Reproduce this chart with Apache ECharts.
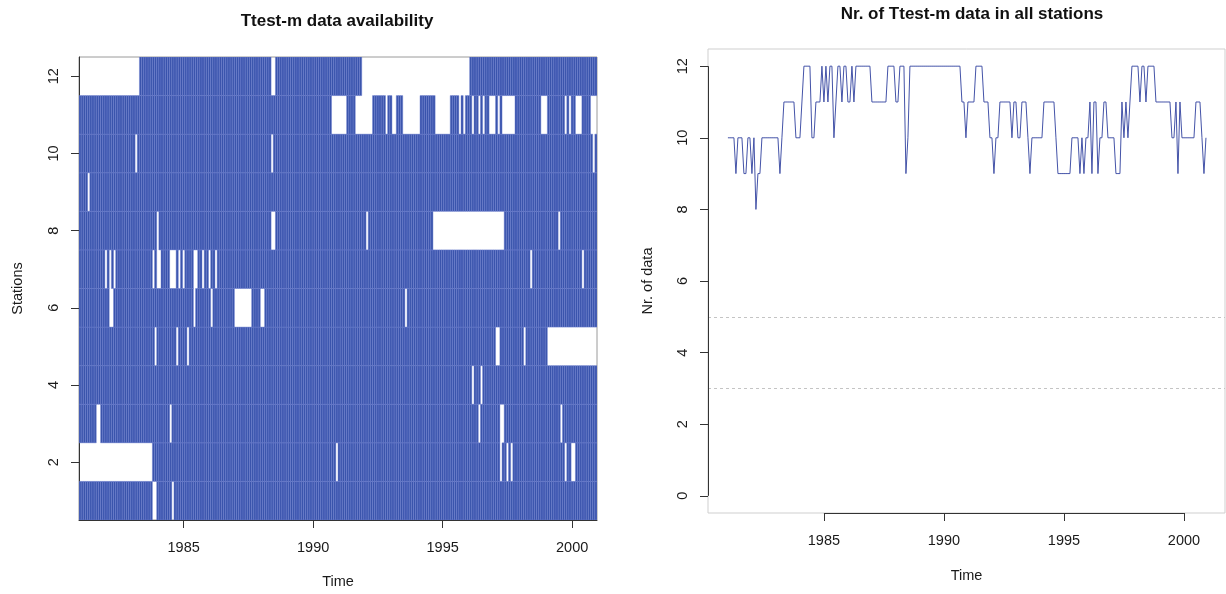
<!DOCTYPE html>
<html><head><meta charset="utf-8">
<script src="https://cdn.jsdelivr.net/npm/echarts@6/dist/echarts.min.js"></script>
<style>html,body{margin:0;padding:0;background:#fff}#c{width:1226px;height:594px}</style>
</head><body><div id="c"></div>
<script>
// ---- data ----
const startYear = 1981;          // first month = Jan 1981
const nMonths = 240;             // monthly, 1981-2000
const stationIds = [1,2,3,4,5,6,7,8,9,10,11,12];
const xTicks = [1985, 1990, 1995, 2000];
const stationTicks = [2, 4, 6, 8, 10, 12];
const countTicks = [0, 2, 4, 6, 8, 10, 12];
const refLevels = [5, 3];

// missing months per station, inclusive month-index ranges (0 = Jan 1981)
const gapsSt1  = [[34,35],[43,43]];
const gapsSt2  = [[0,33],[119,119],[195,195],[198,198],[200,200],[225,225],[228,229]];
const gapsSt3  = [[8,9],[42,42],[185,185],[195,196],[223,223]];
const gapsSt4  = [[182,182],[186,186]];
const gapsSt5  = [[35,35],[45,45],[50,50],[193,194],[206,206],[217,239]];
const gapsSt6  = [[14,15],[53,53],[61,61],[72,79],[84,85],[151,151]];
const gapsSt7  = [[12,12],[14,14],[16,16],[34,34],[36,37],[42,44],[46,46],[48,48],[53,54],[57,57],[60,60],[63,63],[209,209],[233,233]];
const gapsSt8  = [[36,36],[89,90],[133,133],[164,196],[222,222]];
const gapsSt9  = [[4,4]];
const gapsSt10 = [[26,26],[89,89],[238,238]];
const gapsSt11 = [[117,123],[128,135],[142,142],[145,146],[150,157],[165,171],[176,176],[178,178],[182,182],[185,185],[187,187],[190,192],[194,194],[196,201],[214,216],[225,225],[227,227],[230,232],[237,239]];
const gapsSt12 = [[0,27],[89,90],[131,180]];

const gapsByStation = [gapsSt1,gapsSt2,gapsSt3,gapsSt4,gapsSt5,gapsSt6,gapsSt7,gapsSt8,gapsSt9,gapsSt10,gapsSt11,gapsSt12];

// ---- build tables ----
function missing(gaps, m){ return gaps.some(g => m >= g[0] && m <= g[1]); }
const cells = [];
const counts = [];
for (let m = 0; m < nMonths; m++) {
  const t = startYear + m / 12;
  let c = 0;
  stationIds.forEach((s, i) => {
    if (!missing(gapsByStation[i], m)) { cells.push([t, s]); c++; }
  });
  counts.push([t, c]);
}

const FONT = 'Liberation Sans';
const txt = '#1a1a1a';
const half = 1 / 24;
const countMin = -0.48, countMax = 12.48;
const timeMin2 = 1980.17, timeMax2 = 2001.71;
const plain = v => String(v);

const chart = echarts.init(document.getElementById('c'), null, {renderer: 'canvas'});
chart.setOption({
  animation: false,
  backgroundColor: '#fff',
  textStyle: {fontFamily: FONT},
  title: [
    {text: 'Ttest-m data availability', left: 332, top: 8, textAlign: 'center',
     textStyle: {fontFamily: FONT, fontSize: 17, fontWeight: 'bold', color: '#111'}},
    {text: 'Nr. of Ttest-m data in all stations', left: 967, top: 1, textAlign: 'center',
     textStyle: {fontFamily: FONT, fontSize: 17, fontWeight: 'bold', color: '#111'}}
  ],
  grid: [
    {left: 79, top: 57, width: 518, height: 463, show: true, borderColor: '#9a9a9a', borderWidth: 1},
    {left: 708, top: 49, width: 517, height: 464, show: true, borderColor: '#cfcfcf', borderWidth: 1}
  ],
  xAxis: [
    {gridIndex: 0, type: 'value', min: startYear - half, max: startYear + nMonths / 12 - half,
     splitLine: {show: false},
     axisLine: {show: true, onZero: false, lineStyle: {color: '#333'}},
     axisTick: {show: true, length: 8, customValues: xTicks, lineStyle: {color: '#333'}},
     axisLabel: {customValues: xTicks, formatter: plain, fontSize: 14.5, color: txt, margin: 20, fontFamily: FONT},
     name: 'Time', nameLocation: 'middle', nameGap: 54,
     nameTextStyle: {fontSize: 14.5, color: txt, fontFamily: FONT}},
    {gridIndex: 1, type: 'value', min: timeMin2, max: timeMax2,
     splitLine: {show: false},
     axisLine: {show: false, onZero: false},
     axisTick: {show: true, length: 8, customValues: xTicks, lineStyle: {color: '#333'}},
     axisLabel: {customValues: xTicks, formatter: plain, fontSize: 14.5, color: txt, margin: 20, fontFamily: FONT},
     name: 'Time', nameLocation: 'middle', nameGap: 55,
     nameTextStyle: {fontSize: 14.5, color: txt, fontFamily: FONT}}
  ],
  yAxis: [
    {gridIndex: 0, type: 'value', min: 0.5, max: 12.5,
     splitLine: {show: false},
     axisLine: {show: true, onZero: false, lineStyle: {color: '#333'}},
     axisTick: {show: true, length: 8, customValues: stationTicks, lineStyle: {color: '#333'}},
     axisLabel: {customValues: stationTicks, formatter: plain, rotate: 90, fontSize: 14.5, color: txt, margin: 18, fontFamily: FONT},
     name: 'Stations', nameLocation: 'middle', nameGap: 54,
     nameTextStyle: {fontSize: 14.5, color: txt, fontFamily: FONT}},
    {gridIndex: 1, type: 'value', min: countMin, max: countMax,
     splitLine: {show: false},
     axisLine: {show: false, onZero: false},
     axisTick: {show: true, length: 8, customValues: countTicks, lineStyle: {color: '#333'}},
     axisLabel: {customValues: countTicks, formatter: plain, rotate: 90, fontSize: 14.5, color: txt, margin: 18, fontFamily: FONT},
     name: 'Nr. of data', nameLocation: 'middle', nameGap: 53,
     nameTextStyle: {fontSize: 14.5, color: txt, fontFamily: FONT}}
  ],
  series: [
    {type: 'custom', xAxisIndex: 0, yAxisIndex: 0, data: cells, clip: true,
     renderItem: function (params, api) {
       const t = api.value(0), s = api.value(1);
       const p0 = api.coord([t - half, s + 0.5]);
       const p1 = api.coord([t + half, s - 0.5]);
       return {type: 'rect',
         shape: {x: p0[0], y: p0[1], width: p1[0] - p0[0], height: p1[1] - p0[1]},
         style: {fill: '#3a54ac', stroke: '#6d7fcf', lineWidth: 0.45}};
     }},
    {type: 'line', xAxisIndex: 1, yAxisIndex: 1, data: counts, showSymbol: false,
     lineStyle: {color: '#4453a8', width: 1}, z: 3,
     markLine: {silent: true, symbol: 'none', label: {show: false},
       data: [
         {yAxis: refLevels[0], lineStyle: {color: '#c4c4c4', type: [3, 3], width: 1}},
         {yAxis: refLevels[1], lineStyle: {color: '#c4c4c4', type: [3, 3], width: 1}},
         [{coord: [xTicks[0], countMin], lineStyle: {color: '#333', type: 'solid', width: 1}},
          {coord: [xTicks[xTicks.length - 1], countMin]}],
         [{coord: [timeMin2, countTicks[0]], lineStyle: {color: '#333', type: 'solid', width: 1}},
          {coord: [timeMin2, countTicks[countTicks.length - 1]]}]
       ]}}
  ]
});
</script></body></html>
